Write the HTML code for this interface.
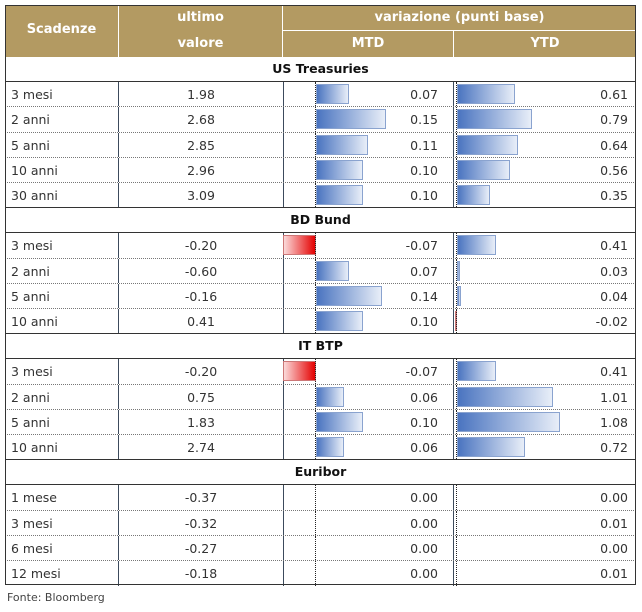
<!DOCTYPE html>
<html><head><meta charset="utf-8"><style>
body{margin:0;background:#fff;width:642px;height:612px;position:relative;font-family:"DejaVu Sans","Liberation Sans",sans-serif;font-size:12.5px;color:#333;overflow:hidden}
.a{position:absolute}
#t{position:absolute;left:5px;top:5px;width:631px;height:580px;border:1px solid #333;box-sizing:border-box}
.h{background:#b39a62;color:#fff;font-weight:bold;text-align:center;font-size:13px}
.r{position:absolute;left:5px;width:631px;height:25.2px;border-bottom:1px dotted #777;box-sizing:border-box}
.s{border-bottom:1px solid #333}
.ti{text-align:center;font-weight:bold;line-height:24px;color:#111}
.c1{position:absolute;left:6px;top:0;line-height:25px}
.c2{position:absolute;left:113px;width:164px;top:0;height:100%;border-left:1px solid #3c4a5c;border-right:1px solid #3c4a5c;text-align:center;line-height:25px}
.c3{position:absolute;right:198px;top:0;line-height:25px}
.c4{position:absolute;right:8px;top:0;line-height:25px}
.v4{position:absolute;left:448px;top:0;height:100%;border-left:1px solid #3c4a5c}
.z3{position:absolute;left:310px;top:0;height:100%;border-left:1px dotted #222}
.z4{position:absolute;left:451px;top:0;height:100%;border-left:1px dotted #222}
.b{position:absolute;top:2px;height:20px;background:linear-gradient(to right,#4a74c0,#e8eef8);border:1px solid #8aa3cf;box-sizing:border-box}
.n{position:absolute;top:2px;height:20px;background:linear-gradient(to right,#fbdada,#e40000);border:1px solid #c77;box-sizing:border-box}
</style></head><body>
<div class="a h" style="left:5px;top:5px;width:631px;height:52px"></div>
<div class="a h" style="left:5px;top:5px;width:113px;height:52px;line-height:50px;border-right:1px solid #fff">Scadenze</div>
<div class="a h" style="left:119px;top:5px;width:163px;height:26px;line-height:26px">ultimo</div>
<div class="a h" style="left:119px;top:31px;width:163px;height:26px;line-height:26px">valore</div>
<div class="a h" style="left:282px;top:5px;width:354px;height:26px;line-height:26px;border-left:1px solid #fff;border-bottom:1px solid #fff;box-sizing:border-box">variazione (punti base)</div>
<div class="a h" style="left:282px;top:31px;width:171px;height:26px;line-height:26px;border-left:1px solid #fff;box-sizing:border-box">MTD</div>
<div class="a h" style="left:453px;top:31px;width:183px;height:26px;line-height:26px;border-left:1px solid #fff;box-sizing:border-box">YTD</div>

<div class="r s ti" style="top:57px">US Treasuries</div>
<div class="r" style="top:82.2px"><span class="c1">3 mesi</span><div class="c2">1.98</div><div class="v4"></div><div class="b" style="left:311px;width:33px"></div><div class="z3"></div><span class="c3">0.07</span><div class="b" style="left:452px;width:58px"></div><div class="z4"></div><span class="c4">0.61</span></div>
<div class="r" style="top:107.4px"><span class="c1">2 anni</span><div class="c2">2.68</div><div class="v4"></div><div class="b" style="left:311px;width:70px"></div><div class="z3"></div><span class="c3">0.15</span><div class="b" style="left:452px;width:75px"></div><div class="z4"></div><span class="c4">0.79</span></div>
<div class="r" style="top:132.6px"><span class="c1">5 anni</span><div class="c2">2.85</div><div class="v4"></div><div class="b" style="left:311px;width:52px"></div><div class="z3"></div><span class="c3">0.11</span><div class="b" style="left:452px;width:61px"></div><div class="z4"></div><span class="c4">0.64</span></div>
<div class="r" style="top:157.8px"><span class="c1">10 anni</span><div class="c2">2.96</div><div class="v4"></div><div class="b" style="left:311px;width:47px"></div><div class="z3"></div><span class="c3">0.10</span><div class="b" style="left:452px;width:53px"></div><div class="z4"></div><span class="c4">0.56</span></div>
<div class="r s" style="top:183px"><span class="c1">30 anni</span><div class="c2">3.09</div><div class="v4"></div><div class="b" style="left:311px;width:47px"></div><div class="z3"></div><span class="c3">0.10</span><div class="b" style="left:452px;width:33px"></div><div class="z4"></div><span class="c4">0.35</span></div>

<div class="r s ti" style="top:208.2px">BD Bund</div>
<div class="r" style="top:233.4px"><span class="c1">3 mesi</span><div class="c2">-0.20</div><div class="v4"></div><div class="n" style="left:278px;width:33px"></div><div class="z3"></div><span class="c3">-0.07</span><div class="b" style="left:452px;width:39px"></div><div class="z4"></div><span class="c4">0.41</span></div>
<div class="r" style="top:258.6px"><span class="c1">2 anni</span><div class="c2">-0.60</div><div class="v4"></div><div class="b" style="left:311px;width:33px"></div><div class="z3"></div><span class="c3">0.07</span><div class="b" style="left:452px;width:3px"></div><div class="z4"></div><span class="c4">0.03</span></div>
<div class="r" style="top:283.8px"><span class="c1">5 anni</span><div class="c2">-0.16</div><div class="v4"></div><div class="b" style="left:311px;width:66px"></div><div class="z3"></div><span class="c3">0.14</span><div class="b" style="left:452px;width:4px"></div><div class="z4"></div><span class="c4">0.04</span></div>
<div class="r s" style="top:309px"><span class="c1">10 anni</span><div class="c2">0.41</div><div class="v4"></div><div class="b" style="left:311px;width:47px"></div><div class="z3"></div><span class="c3">0.10</span><div class="n" style="left:450px;width:2px"></div><div class="z4"></div><span class="c4">-0.02</span></div>

<div class="r s ti" style="top:334.2px">IT BTP</div>
<div class="r" style="top:359.4px"><span class="c1">3 mesi</span><div class="c2">-0.20</div><div class="v4"></div><div class="n" style="left:278px;width:33px"></div><div class="z3"></div><span class="c3">-0.07</span><div class="b" style="left:452px;width:39px"></div><div class="z4"></div><span class="c4">0.41</span></div>
<div class="r" style="top:384.6px"><span class="c1">2 anni</span><div class="c2">0.75</div><div class="v4"></div><div class="b" style="left:311px;width:28px"></div><div class="z3"></div><span class="c3">0.06</span><div class="b" style="left:452px;width:96px"></div><div class="z4"></div><span class="c4">1.01</span></div>
<div class="r" style="top:409.8px"><span class="c1">5 anni</span><div class="c2">1.83</div><div class="v4"></div><div class="b" style="left:311px;width:47px"></div><div class="z3"></div><span class="c3">0.10</span><div class="b" style="left:452px;width:103px"></div><div class="z4"></div><span class="c4">1.08</span></div>
<div class="r s" style="top:435px"><span class="c1">10 anni</span><div class="c2">2.74</div><div class="v4"></div><div class="b" style="left:311px;width:28px"></div><div class="z3"></div><span class="c3">0.06</span><div class="b" style="left:452px;width:68px"></div><div class="z4"></div><span class="c4">0.72</span></div>

<div class="r s ti" style="top:460.2px">Euribor</div>
<div class="r" style="top:485.4px"><span class="c1">1 mese</span><div class="c2">-0.37</div><div class="v4"></div><div class="z3"></div><span class="c3">0.00</span><div class="z4"></div><span class="c4">0.00</span></div>
<div class="r" style="top:510.6px"><span class="c1">3 mesi</span><div class="c2">-0.32</div><div class="v4"></div><div class="z3"></div><span class="c3">0.00</span><div class="z4"></div><span class="c4">0.01</span></div>
<div class="r" style="top:535.8px"><span class="c1">6 mesi</span><div class="c2">-0.27</div><div class="v4"></div><div class="z3"></div><span class="c3">0.00</span><div class="z4"></div><span class="c4">0.00</span></div>
<div class="r" style="top:561px;border-bottom:none"><span class="c1">12 mesi</span><div class="c2">-0.18</div><div class="v4"></div><div class="z3"></div><span class="c3">0.00</span><div class="z4"></div><span class="c4">0.01</span></div>

<div id="t"></div>
<div class="a" style="left:7px;top:591px;font-size:11px;color:#444">Fonte: Bloomberg</div>
</body></html>
